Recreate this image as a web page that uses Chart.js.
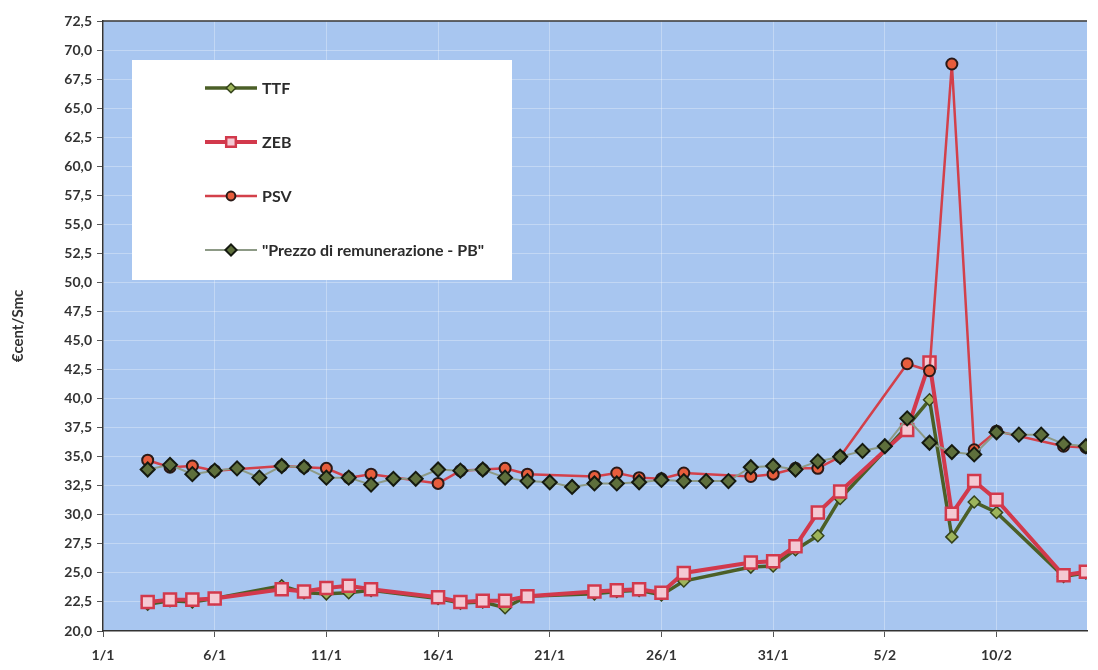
<!DOCTYPE html>
<html>
<head>
<meta charset="utf-8">
<script src="https://cdn.jsdelivr.net/npm/chart.js@4.4.1/dist/chart.umd.min.js"></script>
<style>
  html, body { margin: 0; padding: 0; background: #fff; }
  #wrap { width: 1098px; height: 670px; }
</style>
</head>
<body>
<div id="wrap"><canvas id="chart" width="1098" height="670"></canvas></div>
<script>
// giorni gg/m (gen-feb 2012)
const dates = [
  '3/1','4/1','5/1','6/1','7/1','8/1','9/1','10/1','11/1','12/1','13/1','14/1','15/1',
  '16/1','17/1','18/1','19/1','20/1','21/1','22/1','23/1','24/1','25/1','26/1','27/1',
  '28/1','29/1','30/1','31/1','1/2','2/2','3/2','4/2','5/2','6/2','7/2','8/2','9/2',
  '10/2','11/2','12/2','13/2','14/2'
];

const ttf = [22.3,22.6,22.5,22.8, null,null, 23.9,23.3,23.2,23.3,23.5, null,null,
  22.8,22.4,22.5,22.0,23.0, null,null, 23.2,23.4,23.5,23.1,24.3, null,null,
  25.5,25.6,27.0,28.2,31.4, null,null, 37.6,39.9,28.1,31.1,30.2, null,null, 24.7,25.0];

const zeb = [22.5,22.7,22.7,22.8, null,null, 23.6,23.4,23.7,23.9,23.6, null,null,
  22.9,22.5,22.6,22.6,23.0, null,null, 23.4,23.5,23.6,23.3,25.0, null,null,
  25.9,26.0,27.3,30.2,32.0, null,null, 37.3,43.1,30.1,32.9,31.3, null,null, 24.8,25.1];

const psv = [34.7,34.1,34.2,33.8, null,null, 34.2,34.1,34.0,33.2,33.5, null,null,
  32.7,33.8,33.9,34.0,33.5, null,null, 33.3,33.6,33.2,33.1,33.6, null,null,
  33.3,33.5,34.0,34.0,35.0, null,null, 43.0,42.4,68.8,35.6,37.2, null,null, 35.9,35.8];

const pb = [33.9,34.3,33.5,33.8,34.0,33.2,34.2,34.1,33.2,33.2,32.6,33.1,33.1,
  33.9,33.8,33.9,33.2,32.9,32.8,32.4,32.7,32.7,32.8,33.0,32.9,32.9,32.9,
  34.1,34.2,33.9,34.6,35.0,35.5,35.9,38.3,36.2,35.4,35.2,37.1,36.9,36.9,36.1,35.9];

const xTickLabels = ['1/1','6/1','11/1','16/1','21/1','26/1','31/1','5/2','10/2'];

// day index from 1 January
function dayOf(s) {
  const [d, m] = s.split('/').map(Number);
  return m === 1 ? d - 1 : d + 30;
}
function points(arr) {
  return dates.map((d, i) => ({ x: dayOf(d), y: arr[i] }));
}

const font = { family: 'Lato, "Open Sans", sans-serif', weight: 'bold', size: 14 };

const plotBg = {
  id: 'plotBg',
  beforeDraw(chart) {
    const { ctx, chartArea: a } = chart;
    ctx.save();
    ctx.fillStyle = '#a8c6f0';
    ctx.fillRect(a.left, a.top, a.right - a.left, a.bottom - a.top);
    ctx.restore();
  },
  afterDraw(chart) {
    const { ctx, chartArea: a } = chart;
    ctx.save();
    ctx.strokeStyle = '#333';
    ctx.lineWidth = 1.5;
    ctx.beginPath();
    ctx.moveTo(a.left, a.top);
    ctx.lineTo(a.right, a.top);
    ctx.stroke();
    ctx.restore();
  }
};

// legenda dentro l'area del grafico
const legendOrder = [3, 2, 1, 0];
const legendBox = {
  id: 'legendBox',
  beforeDatasetsDraw(chart) {
    const ctx = chart.ctx;
    const x0 = 132, y0 = 60, rowH = 54, firstRow = 88;
    ctx.save();
    ctx.font = 'bold 16px Lato, sans-serif';
    const labels = legendOrder.map(i => chart.data.datasets[i].label);
    const textW = Math.max(...labels.map(t => ctx.measureText(t).width));
    ctx.fillStyle = '#fff';
    ctx.fillRect(x0, y0, 262 - x0 + textW + 28, firstRow - y0 + rowH * 3 + 30);
    legendOrder.forEach((idx, k) => {
      const ds = chart.data.datasets[idx];
      const y = firstRow + k * rowH;
      ctx.strokeStyle = ds.borderColor;
      ctx.lineWidth = ds.borderWidth;
      ctx.beginPath();
      ctx.moveTo(205, y);
      ctx.lineTo(257, y);
      ctx.stroke();
      ctx.fillStyle = ds.pointBackgroundColor;
      ctx.strokeStyle = ds.pointBorderColor;
      ctx.lineWidth = ds.pointBorderWidth;
      Chart.helpers.drawPoint(ctx, {
        pointStyle: ds.pointStyle,
        radius: ds.pointRadius * 0.8,
        rotation: 0,
        borderWidth: ds.pointBorderWidth
      }, 231, y);
      ctx.fillStyle = '#2b2b2b';
      ctx.textBaseline = 'middle';
      ctx.fillText(ds.label, 262, y + 1);
    });
    ctx.restore();
  }
};

new Chart(document.getElementById('chart'), {
  type: 'line',
  data: {
    datasets: [
      {
        label: '"Prezzo di remunerazione - PB"',
        data: points(pb),
        order: 0,
        borderColor: '#8d9a86',
        borderWidth: 2,
        pointStyle: 'rectRot',
        pointRadius: 7,
        pointBackgroundColor: '#5e6f3c',
        pointBorderColor: '#151a10',
        pointBorderWidth: 2
      },
      {
        label: 'PSV',
        data: points(psv),
        order: 1,
        borderColor: '#d3404a',
        borderWidth: 2.5,
        pointStyle: 'circle',
        pointRadius: 5.5,
        pointBackgroundColor: '#e75d3c',
        pointBorderColor: '#2a1a18',
        pointBorderWidth: 2
      },
      {
        label: 'ZEB',
        data: points(zeb),
        order: 2,
        borderColor: '#d2394c',
        borderWidth: 4,
        pointStyle: 'rect',
        pointRadius: 8.5,
        pointBackgroundColor: '#f4c9d3',
        pointBorderColor: '#d2394c',
        pointBorderWidth: 2.5
      },
      {
        label: 'TTF',
        data: points(ttf),
        order: 3,
        borderColor: '#4b5f27',
        borderWidth: 3.5,
        pointStyle: 'rectRot',
        pointRadius: 6,
        pointBackgroundColor: '#9db45a',
        pointBorderColor: '#34431b',
        pointBorderWidth: 1.5
      }
    ]
  },
  options: {
    responsive: false,
    animation: false,
    devicePixelRatio: 1,
    spanGaps: true,
    layout: { padding: { top: 21, right: 0, left: 0, bottom: 0 } },
    plugins: {
      legend: { display: false },
      tooltip: { enabled: false }
    },
    scales: {
      x: {
        type: 'linear',
        min: 0,
        max: 44.05,
        afterFit(scale) { scale.height = 39; },
        afterBuildTicks(scale) {
          scale.ticks = xTickLabels.map((_, i) => ({ value: i * 5 }));
        },
        grid: { color: 'rgba(255,255,255,0.3)', tickColor: '#555', tickLength: 6 },
        border: { color: '#333', width: 1.5 },
        ticks: {
          font: font,
          color: '#333',
          padding: 10,
          maxRotation: 0,
          autoSkip: false,
          callback: v => xTickLabels[v / 5]
        }
      },
      y: {
        min: 20,
        max: 72.5,
        afterFit(scale) { scale.width = 103; },
        grid: { color: 'rgba(255,255,255,0.3)', tickColor: '#555', tickLength: 6 },
        border: { color: '#333', width: 1.5 },
        title: {
          display: true,
          text: '€cent/Smc',
          color: '#333',
          font: { family: 'Lato, sans-serif', weight: 'bold', size: 15 },
          padding: { top: 9 }
        },
        ticks: {
          stepSize: 2.5,
          font: font,
          color: '#333',
          padding: 5,
          callback: v => v.toFixed(1).replace('.', ',')
        }
      }
    }
  },
  plugins: [plotBg, legendBox]
});
</script>
</body>
</html>
